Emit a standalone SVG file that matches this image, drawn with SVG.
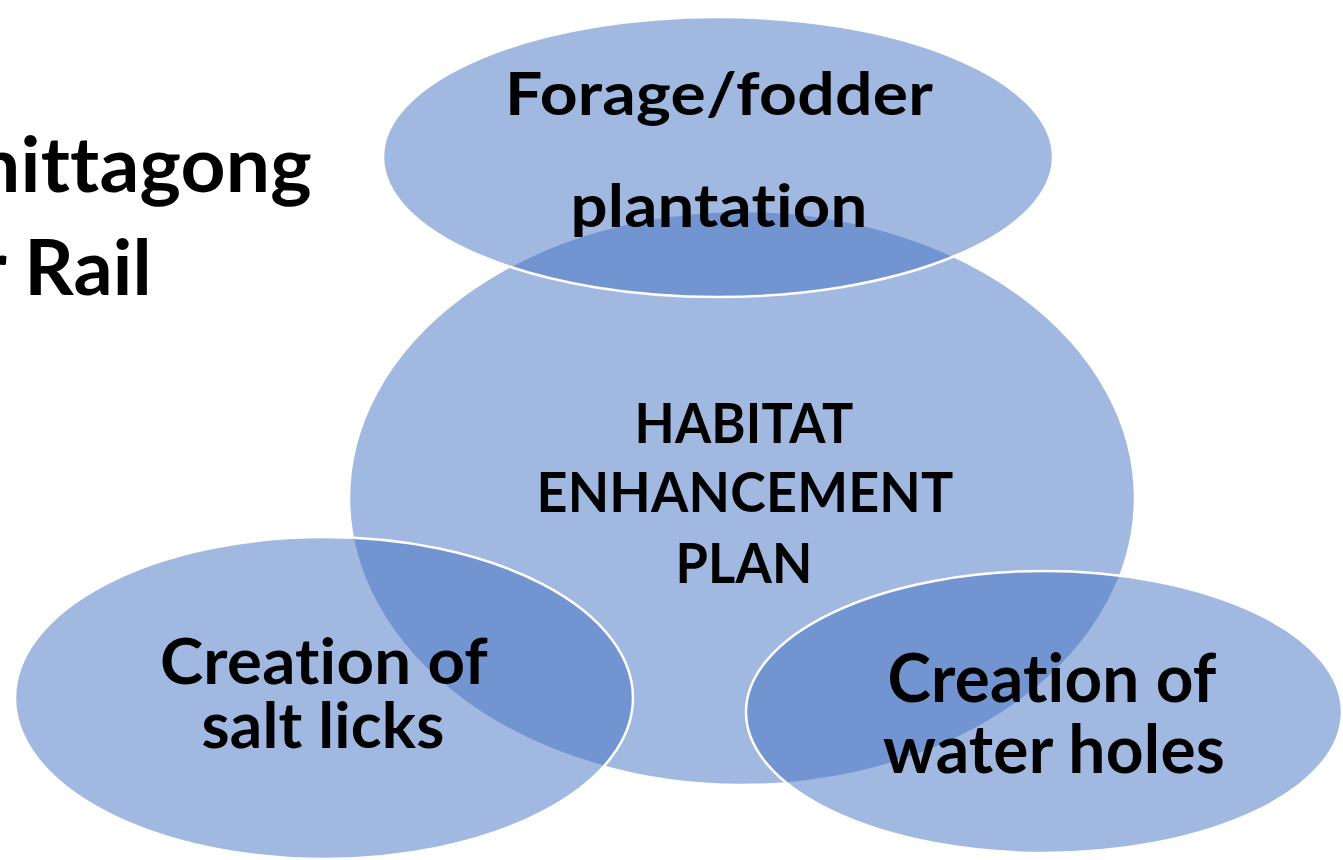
<svg xmlns="http://www.w3.org/2000/svg" width="1343" height="860" viewBox="0 0 1343 860">
  <style>
    .shape { fill: #4472C4; fill-opacity: 0.5; stroke: #FFFFFF; stroke-width: 2.5; }
    .lbl { font-family: Lato, "Open Sans", "Liberation Sans", sans-serif; font-weight: 700; fill: #000000; text-anchor: middle; font-variant-ligatures: none; font-feature-settings: "liga" 0, "clig" 0, "calt" 0, "dlig" 0; letter-spacing: 0.2px; }
    .title { font-family: Lato, "Open Sans", "Liberation Sans", sans-serif; font-weight: 700; fill: #000000; font-size: 77px; font-variant-ligatures: none; font-feature-settings: "liga" 0, "clig" 0, "calt" 0, "dlig" 0; letter-spacing: 0.2px; }
  </style>
  <rect x="0" y="0" width="1343" height="860" fill="#FFFFFF"/>
  <g id="title">
    <text class="title" x="-24" y="192" textLength="336" lengthAdjust="spacingAndGlyphs">hittagong</text>
    <text class="title" x="-22" y="295" textLength="174" lengthAdjust="spacingAndGlyphs">r Rail</text>
  </g>
  <g id="connectors"></g>
  <g id="node-habitat">
    <ellipse class="shape" cx="742" cy="498" rx="393" ry="287"/>
    <text class="lbl" x="744" y="443" font-size="56" textLength="219" lengthAdjust="spacingAndGlyphs">HABITAT</text>
    <text class="lbl" x="745" y="512" font-size="56" textLength="417" lengthAdjust="spacingAndGlyphs">ENHANCEMENT</text>
    <text class="lbl" x="744" y="583" font-size="56" textLength="137" lengthAdjust="spacingAndGlyphs">PLAN</text>
  </g>
  <g id="node-forage">
    <ellipse class="shape" cx="718" cy="157" rx="335" ry="140"/>
    <text class="lbl" x="719" y="115" font-size="60" textLength="428" lengthAdjust="spacingAndGlyphs">Forage/fodder</text>
    <text class="lbl" x="719" y="227" font-size="60" textLength="297" lengthAdjust="spacingAndGlyphs">plantation</text>
  </g>
  <g id="node-salt">
    <ellipse class="shape" cx="324" cy="698" rx="309" ry="161"/>
    <text class="lbl" x="324" y="684" font-size="64" textLength="328" lengthAdjust="spacingAndGlyphs">Creation of</text>
    <text class="lbl" x="323" y="748" font-size="64" textLength="243" lengthAdjust="spacingAndGlyphs">salt licks</text>
  </g>
  <g id="node-water">
    <ellipse class="shape" cx="1044" cy="712" rx="298" ry="141"/>
    <text class="lbl" x="1052" y="702" font-size="66" textLength="329" lengthAdjust="spacingAndGlyphs">Creation of</text>
    <text class="lbl" x="1054" y="773" font-size="66" textLength="342" lengthAdjust="spacingAndGlyphs">water holes</text>
  </g>
</svg>
